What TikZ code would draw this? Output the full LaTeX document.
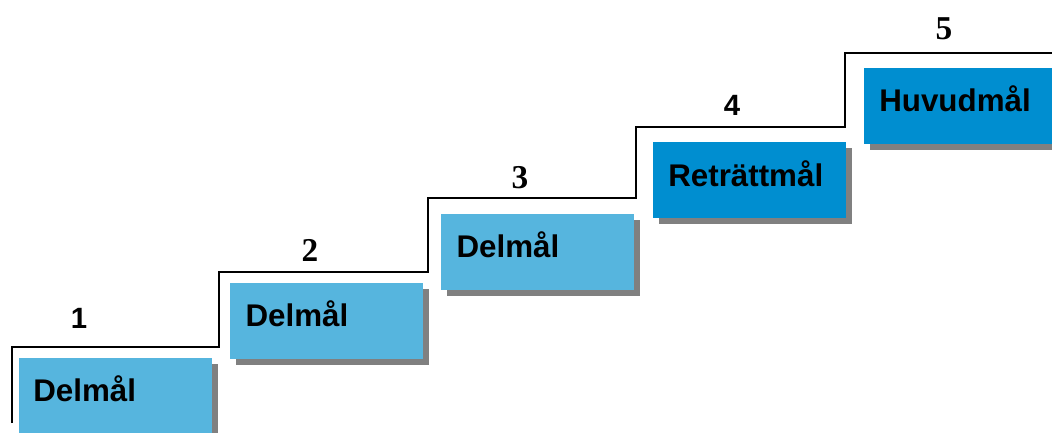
\documentclass[tikz,border=0pt]{standalone}
\usepackage{fontspec}
\setmainfont{Liberation Serif}
\newfontfamily\arialf{Liberation Sans}
\usetikzlibrary{shadows}
\definecolor{lightb}{RGB}{86,181,222}
\definecolor{darkb}{RGB}{0,142,208}
\definecolor{shad}{RGB}{128,128,128}
\begin{document}
\begin{tikzpicture}[x=0.75pt,y=-0.75pt,
  goalbox/.style={draw=none, minimum width=144.75pt, minimum height=57pt, inner sep=0pt, anchor=north west,
    drop shadow={shadow xshift=4pt, shadow yshift=-4.5pt, fill=shad, opacity=1}},
  goaltext/.style={anchor=base west, inner sep=0pt, font=\arialf\bfseries\fontsize{23.5}{28}\selectfont},
  numa/.style={anchor=base, inner sep=0pt, font=\arialf\bfseries\fontsize{22}{26}\selectfont},
  numt/.style={anchor=base, inner sep=0pt, font=\bfseries\fontsize{25}{30}\selectfont},
  stair/.style={line width=2.2pt, line join=miter}]
\useasboundingbox (0,0) rectangle (1052,432);
\clip (0,0) rectangle (1052,432);
\draw[stair] (12,423) -- (12,347) -- (219,347) -- (219,272) -- (428,272) -- (428,198)
  -- (636,198) -- (636,127) -- (845,127) -- (845,53) -- (1060,53);
\node[goalbox, fill=lightb] (b1) at (19,358) {};
\node[goalbox, fill=lightb] (b2) at (230,283) {};
\node[goalbox, fill=lightb] (b3) at (441,214) {};
\node[goalbox, fill=darkb] (b4) at (653,142) {};
\node[goalbox, fill=darkb] (b5) at (864,68) {};
\node[goaltext] (t1) at ([xshift=10.5pt,yshift=-32.25pt]b1.north west) {Delmål};
\node[goaltext] (t2) at ([xshift=11.5pt,yshift=-32.5pt]b2.north west) {Delmål};
\node[goaltext] (t3) at ([xshift=11.5pt,yshift=-32.25pt]b3.north west) {Delmål};
\node[goaltext] (t4) at ([xshift=11.25pt,yshift=-33pt]b4.north west) {Reträttmål};
\node[goaltext] (t5) at ([xshift=11.25pt,yshift=-32.25pt]b5.north west) {Huvudmål};
\node[numa] (n1) at (79,328) {1};
\node[numt] (n2) at (310,261) {2};
\node[numt] (n3) at (520,188) {3};
\node[numa] (n4) at (732,115) {4};
\node[numt] (n5) at (944,39) {5};
\end{tikzpicture}
\end{document}
